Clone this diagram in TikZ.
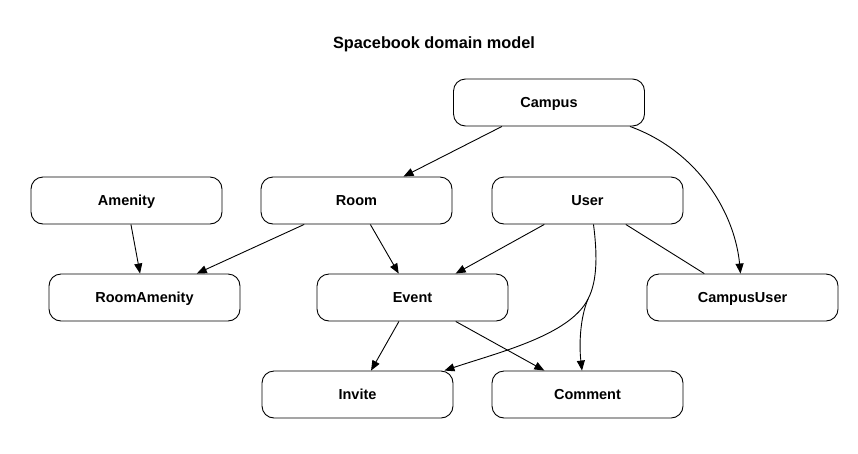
\documentclass[tikz,border=0pt]{standalone}
\usepackage{fontspec}
\setmainfont{Liberation Sans}
\usetikzlibrary{arrows.meta}
\begin{document}
\begin{tikzpicture}[x=1pt,y=-1pt,
  box/.style={draw, line width=0.9pt, rounded corners=12pt, minimum width=191pt, minimum height=47pt, inner sep=0pt, text depth=0pt, font=\fontsize{14.5}{16}\selectfont\bfseries},
  edge/.style={line width=0.9pt, -{Triangle[length=10pt,width=8pt]}},
  plain/.style={line width=0.9pt}]
\useasboundingbox (0,0) rectangle (858,453);
\node[font=\fontsize{16.3}{18}\selectfont\bfseries] (title) at (434,44) {Spacebook domain model};
\node[box] (campus) at (549,102.5) {Campus};
\node[box] (amenity) at (126.5,200.5) {Amenity};
\node[box] (room) at (356.5,200.5) {Room};
\node[box] (user) at (587.5,200.5) {User};
\node[box] (roomamenity) at (144.5,297.5) {RoomAmenity};
\node[box] (event) at (412.5,297.5) {Event};
\node[box] (campususer) at (742.5,297.5) {CampusUser};
\node[box] (invite) at (357.5,394.5) {Invite};
\node[box] (comment) at (587.5,394.5) {Comment};
\coordinate (split) at (588,299);
\draw[edge] (campus) -- (room);
\draw[edge] ([xshift=81pt]campus.south) .. controls (700,152) and (735,215) .. ([xshift=-2pt]campususer.north);
\draw[edge] (amenity) -- (roomamenity);
\draw[edge] (room) -- (roomamenity);
\draw[edge] (room) -- (event);
\draw[edge] (user) -- (event);
\draw[plain] (user) -- (campususer);
\draw[plain] ([xshift=6pt]user.south) .. controls (597,252) and (598,280) .. (split);
\draw[edge] (split) .. controls (570,335) and (500,352) .. ([xshift=-9pt]invite.north east);
\draw[edge] (split) .. controls (580,318) and (579,345) .. ([xshift=-5.5pt]comment.north);
\draw[edge] (event) -- (invite);
\draw[edge] (event) -- (comment);
\end{tikzpicture}
\end{document}
